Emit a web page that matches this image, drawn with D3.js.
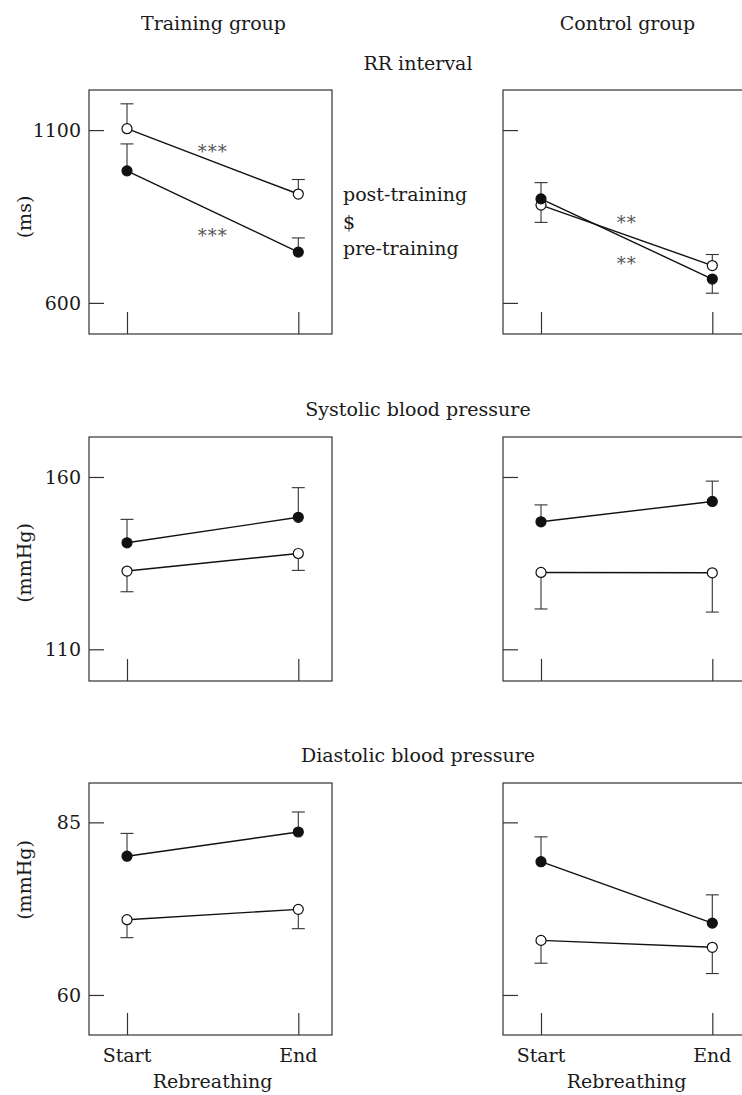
<!DOCTYPE html>
<html>
<head>
<meta charset="utf-8">
<script src="https://cdn.jsdelivr.net/npm/d3@7"></script>
<style>
  body { margin: 0; background: #fff; }
  text { font-family: "DejaVu Serif", serif; fill: #1a1a1a; }
</style>
</head>
<body>
<script>
// ---- data ----
const groups   = ["Training group", "Control group"]
const measures = ["RR interval", "Systolic blood pressure", "Diastolic blood pressure"]
const units    = ["(ms)", "(mmHg)", "(mmHg)"]
const phases   = ["Start", "End"]
const yTicks   = [[600, 1100], [110, 160], [60, 85]]
const yDomains = [[510, 1216], [100.8, 171.6], [54.2, 90.7]]

// values per group: [training, control], each [start, end]
// error: signed one-sided SE bar (+ up, - down)
const rrPre      = [[982, 747], [901, 669]]
const rrPreErr   = [[78, 41], [47, -41]]
const rrPost     = [[1104, 915], [883, 708]]
const rrPostErr  = [[72, 42], [-50, 32]]

const sbpPre     = [[140.9, 148.3], [147.0, 152.9]]
const sbpPreErr  = [[6.8, 8.6], [4.9, 5.9]]
const sbpPost    = [[132.7, 137.8], [132.3, 132.2]]
const sbpPostErr = [[-6.0, -4.9], [-10.6, -11.4]]

const dbpPre     = [[80.1, 83.6], [79.3, 70.4]]
const dbpPreErr  = [[3.3, 2.9], [3.6, 4.1]]
const dbpPost    = [[70.9, 72.4], [67.9, 66.9]]
const dbpPostErr = [[-2.6, -2.8], [-3.3, -3.8]]

// significance marks in RR row: [training, control]
const starLabels = [["***", "***"], ["**", "**"]]
const starValues = [[1057, 814], [849, 731]]

const legendLabels = ["post-training", "$", "pre-training"]

// ---- layout ----
const W = 742, H = 1095
const panelW = 243
const panelX = [89, 503]
const panelY = [90, 437, 783]
const panelH = [244, 244, 252]
const unitY  = [217, 563, 880]

const svg = d3.select("body").append("svg")
    .attr("width", W)
    .attr("height", H)

const pre  = [rrPre, sbpPre, dbpPre]
const preE = [rrPreErr, sbpPreErr, dbpPreErr]
const post = [rrPost, sbpPost, dbpPost]
const postE = [rrPostErr, sbpPostErr, dbpPostErr]

const x = d3.scalePoint().domain(phases).range([38, 209.3])

// column titles
groups.forEach((g, gi) => {
    svg.append("text")
        .attr("x", panelX[gi] + panelW / 2 + 3)
        .attr("y", 30)
        .attr("text-anchor", "middle")
        .style("font-size", "19px")
        .text(g)
})

const rowTitleY = [70, 416, 762]

measures.forEach((m, mi) => {
    svg.append("text")
        .attr("x", 418)
        .attr("y", rowTitleY[mi])
        .attr("text-anchor", "middle")
        .style("font-size", "19px")
        .text(m)

    // unit label
    svg.append("text")
        .attr("transform", `translate(24,${unitY[mi]}) rotate(-90)`)
        .attr("text-anchor", "middle")
        .attr("dy", "0.35em")
        .style("font-size", "19px")
        .text(units[mi])

    const y = d3.scaleLinear()
        .domain(yDomains[mi])
        .range([panelH[mi], 0])

    groups.forEach((g, gi) => {
        const p = svg.append("g")
            .attr("transform", `translate(${panelX[gi]},${panelY[mi]})`)

        p.append("rect")
            .attr("width", panelW)
            .attr("height", panelH[mi])
            .attr("fill", "none")
            .attr("stroke", "#333")
            .attr("stroke-width", 1.2)

        // y ticks, inward
        const yAxis = d3.axisRight(y).tickValues(yTicks[mi]).tickSize(15).tickFormat("")
        const ya = p.append("g").call(yAxis)
        ya.select(".domain").remove()
        ya.selectAll("line").attr("stroke", "#333").attr("stroke-width", 1.2)

        if (gi === 0) {
            p.append("g").selectAll("text")
                .data(yTicks[mi])
                .join("text")
                .attr("x", -8)
                .attr("y", d => y(d))
                .attr("dy", "0.35em")
                .attr("text-anchor", "end")
                .style("font-size", "19px")
                .text(d => d)
        }

        // x ticks, inward from bottom
        const xAxis = d3.axisTop(x).tickSize(22).tickFormat("")
        const xa = p.append("g").attr("transform", `translate(0,${panelH[mi]})`).call(xAxis)
        xa.select(".domain").remove()
        xa.selectAll("line").attr("stroke", "#333").attr("stroke-width", 1.2)

        if (mi === measures.length - 1) {
            p.selectAll(".xlab")
                .data(phases)
                .join("text")
                .attr("x", d => x(d))
                .attr("y", panelH[mi] + 27)
                .attr("text-anchor", "middle")
                .style("font-size", "19px")
                .text(d => d)
            p.append("text")
                .attr("x", (x("Start") + x("End")) / 2)
                .attr("y", panelH[mi] + 53)
                .attr("text-anchor", "middle")
                .style("font-size", "19px")
                .text("Rebreathing")
        }

        const series = [
            { vals: post[mi][gi], err: postE[mi][gi], fill: "#fff" },
            { vals: pre[mi][gi], err: preE[mi][gi], fill: "#111" }
        ]

        // error bars
        series.forEach(s => {
            s.vals.forEach((v, i) => {
                const cx = x(phases[i])
                const y0 = y(v), y1 = y(v + s.err[i])
                p.append("line")
                    .attr("x1", cx).attr("x2", cx)
                    .attr("y1", y0).attr("y2", y1)
                    .attr("stroke", "#333").attr("stroke-width", 1.1)
                p.append("line")
                    .attr("x1", cx - 6.5).attr("x2", cx + 6.5)
                    .attr("y1", y1).attr("y2", y1)
                    .attr("stroke", "#333").attr("stroke-width", 1.1)
            })
        })

        const line = d3.line()
            .x((d, i) => x(phases[i]))
            .y(d => y(d))

        series.forEach(s => {
            p.append("path")
                .attr("d", line(s.vals))
                .attr("fill", "none")
                .attr("stroke", "#111")
                .attr("stroke-width", 1.4)
        })

        series.forEach(s => {
            p.selectAll(null)
                .data(s.vals)
                .join("circle")
                .attr("cx", (d, i) => x(phases[i]))
                .attr("cy", d => y(d))
                .attr("r", 5)
                .attr("fill", s.fill)
                .attr("stroke", "#111")
                .attr("stroke-width", 1.2)
        })

        if (mi === 0) {
            p.selectAll(".star")
                .data(starValues[gi])
                .join("text")
                .attr("x", (x("Start") + x("End")) / 2)
                .attr("y", d => y(d))
                .attr("dy", "0.7em")
                .attr("text-anchor", "middle")
                .style("font-size", "18px")
                .style("letter-spacing", "1px")
                .style("fill", "#555")
                .text((d, i) => starLabels[gi][i])
        }
    })
})

// legend between RR panels
const legendY = [201, 229, 255]
svg.selectAll(".legend")
    .data(legendLabels)
    .join("text")
    .attr("x", 343)
    .attr("y", (d, i) => legendY[i])
    .style("font-size", "19px")
    .text(d => d)
</script>
</body>
</html>
